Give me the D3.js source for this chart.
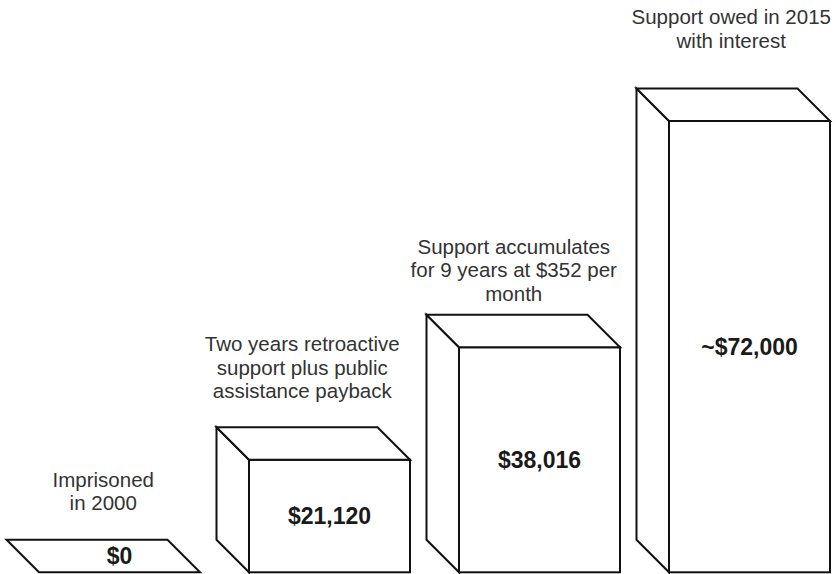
<!DOCTYPE html>
<html>
<head>
<meta charset="utf-8">
<script src="https://cdn.jsdelivr.net/npm/d3@7"></script>
<style>
  html, body { margin: 0; padding: 0; background: #fff; }
  svg { display: block; }
  .note { font-family: "Liberation Sans", Arial, sans-serif; font-size: 20.5px; fill: #333; }
  .value { font-family: "Liberation Sans", Arial, sans-serif; font-size: 23px; font-weight: bold; fill: #1a1a1a; }
</style>
</head>
<body>
<svg id="chart" width="837" height="574"></svg>
<script>
// Stages of accumulated child-support debt
const stages = ["imprisoned", "retroactive", "accumulates", "owed2015"];
const amounts = [0, 21120, 38016, 72000];
const valueLabels = ["$0", "$21,120", "$38,016", "~$72,000"];
const notes = [
  ["Imprisoned", "in 2000"],
  ["Two years retroactive", "support plus public", "assistance payback"],
  ["Support accumulates", "for 9 years at $352 per", "month"],
  ["Support owed in 2015", "with interest"]
];

// Placement of each caption relative to its box (x shift from box centre, first baseline above box top)
const noteShiftX = [0, -11, -9.5, -2];
const noteRise = [53.3, 76, 60.8, 64.5];

const width = 837, height = 574;
const baseY = 572.3;   // floor line of the boxes
const depth = 32.5;    // oblique depth of each box
const lineGap = 23.5;

const svg = d3.select("#chart");

const x = d3.scaleBand()
  .domain(stages)
  .range([39, 830])
  .paddingInner(0.2333)
  .paddingOuter(0);

const y = d3.scaleLinear()
  .domain([0, 72000])
  .range([600.4, 121]);

const data = stages.map((s, i) => ({
  key: s, value: amounts[i], label: valueLabels[i], note: notes[i],
  dxNote: noteShiftX[i], rise: noteRise[i]
}));

const boxes = svg.selectAll("g.box")
  .data(data)
  .join("g")
  .attr("class", "box");

const strokeAttrs = sel => sel
  .attr("fill", "#fff")
  .attr("stroke", "#111")
  .attr("stroke-width", 2)
  .attr("stroke-linejoin", "miter");

boxes.each(function(d) {
  const g = d3.select(this);
  const x0 = x(d.key), w = x.bandwidth();
  const top = Math.min(baseY, y(d.value));
  const h = baseY - top;

  if (h > 0) {
    // side face
    g.append("path")
      .attr("d", `M${x0},${top}L${x0 - depth},${top - depth}L${x0 - depth},${baseY - depth}L${x0},${baseY}Z`)
      .call(strokeAttrs);
    // front face
    g.append("rect")
      .attr("x", x0).attr("y", top)
      .attr("width", w).attr("height", h)
      .call(strokeAttrs);
  }
  // top face
  g.append("path")
    .attr("d", `M${x0},${top}L${x0 - depth},${top - depth}L${x0 + w - depth},${top - depth}L${x0 + w},${top}Z`)
    .call(strokeAttrs);

  // value label, centred on the front face (or on the slab when flat)
  const midY = h > 0 ? (top + baseY) / 2 : top - depth / 2;
  g.append("text")
    .attr("class", "value")
    .attr("x", x0 + w / 2)
    .attr("y", midY)
    .attr("dy", "0.36em")
    .attr("text-anchor", "middle")
    .text(d.label);

  // caption above the box
  const cx = x0 + w / 2 - depth / 2 + d.dxNote;
  const firstBase = top - depth - d.rise;
  const t = g.append("text")
    .attr("class", "note")
    .attr("text-anchor", "middle");
  d.note.forEach((line, k) => {
    t.append("tspan")
      .attr("x", cx)
      .attr("y", firstBase + k * lineGap)
      .text(line);
  });
});
</script>
</body>
</html>
